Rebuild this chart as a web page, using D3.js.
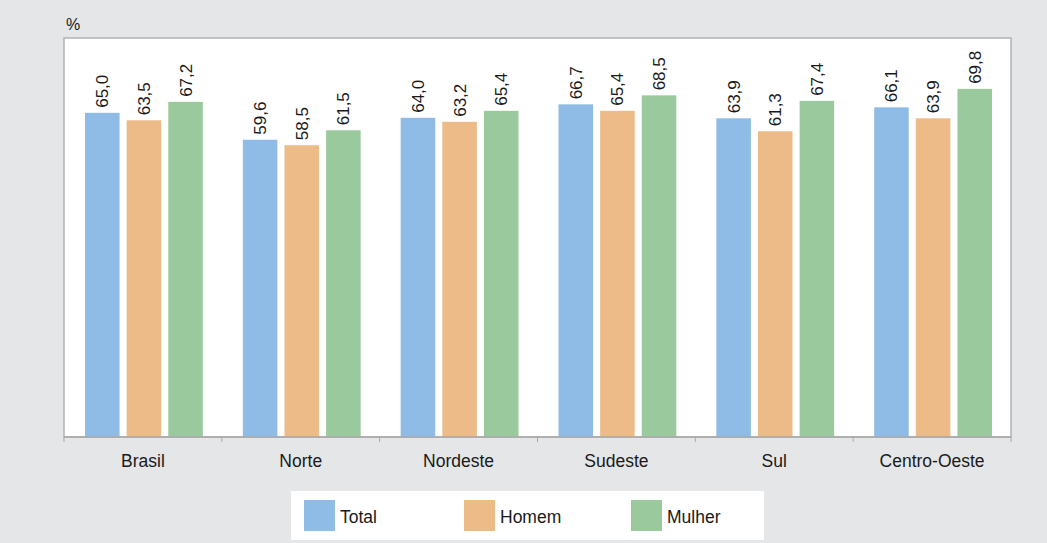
<!DOCTYPE html>
<html>
<head>
<meta charset="utf-8">
<script src="https://cdn.jsdelivr.net/npm/d3@7"></script>
<style>
  body { margin: 0; background: #e5e6e8; }
  svg { display: block; font-family: "Liberation Sans", Arial, sans-serif; }
  .axis path, .axis line { stroke: #a9a9a9; }
  .axis text { font-size: 17.5px; fill: #1a1a1a; }
</style>
</head>
<body>
<svg id="chart" width="1047" height="543"></svg>
<script>
const regions = ["Brasil", "Norte", "Nordeste", "Sudeste", "Sul", "Centro-Oeste"];
const seriesNames = ["Total", "Homem", "Mulher"];
const total = [65.0, 59.6, 64.0, 66.7, 63.9, 66.1];
const homem = [63.5, 58.5, 63.2, 65.4, 61.3, 63.9];
const mulher = [67.2, 61.5, 65.4, 68.5, 67.4, 69.8];
const colors = ["#8fbce6", "#ecbb87", "#9bc99e"];

const values = [total, homem, mulher];
const plotLeft = 64, plotRight = 1011, plotTop = 38, plotBottom = 437;

const svg = d3.select("#chart");

// plot area
svg.append("rect")
  .attr("x", plotLeft).attr("y", plotTop)
  .attr("width", plotRight - plotLeft).attr("height", plotBottom - plotTop)
  .attr("fill", "#fff")
  .attr("stroke", "#b3b3b3").attr("stroke-width", 1.5);

svg.append("text")
  .attr("x", 66).attr("y", 30)
  .attr("font-size", 16).attr("fill", "#1a1a1a")
  .text("%");

const x0 = d3.scaleBand().domain(regions).range([plotLeft, plotRight]);
const x1 = d3.scaleBand().domain(seriesNames)
  .range([21, x0.bandwidth() - 19]).paddingInner(0.17);
const y = d3.scaleLinear().domain([0, 80]).range([plotBottom, plotTop]);

const groups = svg.selectAll(".region")
  .data(regions)
  .join("g")
  .attr("class", "region")
  .attr("transform", (d) => `translate(${x0(d)},0)`);

const fmt = (v) => v.toFixed(1).replace(".", ",");

groups.selectAll("rect")
  .data((d, i) => seriesNames.map((s, j) => ({ s, v: values[j][i], c: colors[j] })))
  .join("rect")
  .attr("x", (d) => x1(d.s))
  .attr("y", (d) => y(d.v))
  .attr("width", x1.bandwidth())
  .attr("height", (d) => plotBottom - y(d.v))
  .attr("fill", (d) => d.c);

groups.selectAll(".val")
  .data((d, i) => seriesNames.map((s, j) => ({ s, v: values[j][i] })))
  .join("text")
  .attr("class", "val")
  .attr("transform", (d) =>
    `translate(${x1(d.s) + x1.bandwidth() / 2 + 6},${y(d.v) - 5}) rotate(-90)`)
  .attr("font-size", 17)
  .attr("fill", "#1a1a1a")
  .text((d) => fmt(d.v));

// x axis with ticks at band edges
const xAxis = svg.append("g")
  .attr("class", "axis")
  .attr("transform", `translate(0,${plotBottom})`);
xAxis.append("line")
  .attr("x1", plotLeft).attr("x2", plotRight)
  .attr("stroke-width", 1.5);
xAxis.selectAll(".tick")
  .data(regions.map((d) => x0(d)).concat([plotRight]))
  .join("line")
  .attr("class", "tick")
  .attr("x1", (d) => d).attr("x2", (d) => d)
  .attr("y1", 0).attr("y2", 5);
xAxis.selectAll(".lbl")
  .data(regions)
  .join("text")
  .attr("class", "lbl")
  .attr("x", (d) => x0(d) + x0.bandwidth() / 2)
  .attr("y", 30)
  .attr("text-anchor", "middle")
  .text((d) => d);

// legend
const legend = svg.append("g");
legend.append("rect")
  .attr("x", 291).attr("y", 491)
  .attr("width", 473).attr("height", 49)
  .attr("fill", "#fff");
const legendX = [304, 464, 631];
const item = legend.selectAll(".item")
  .data(seriesNames)
  .join("g")
  .attr("class", "item")
  .attr("transform", (d, i) => `translate(${legendX[i]},500)`);
item.append("rect")
  .attr("width", 31).attr("height", 31)
  .attr("fill", (d, i) => colors[i]);
item.append("text")
  .attr("x", 36).attr("y", 23)
  .attr("font-size", 17.5).attr("fill", "#1a1a1a")
  .text((d) => d);
</script>
</body>
</html>
